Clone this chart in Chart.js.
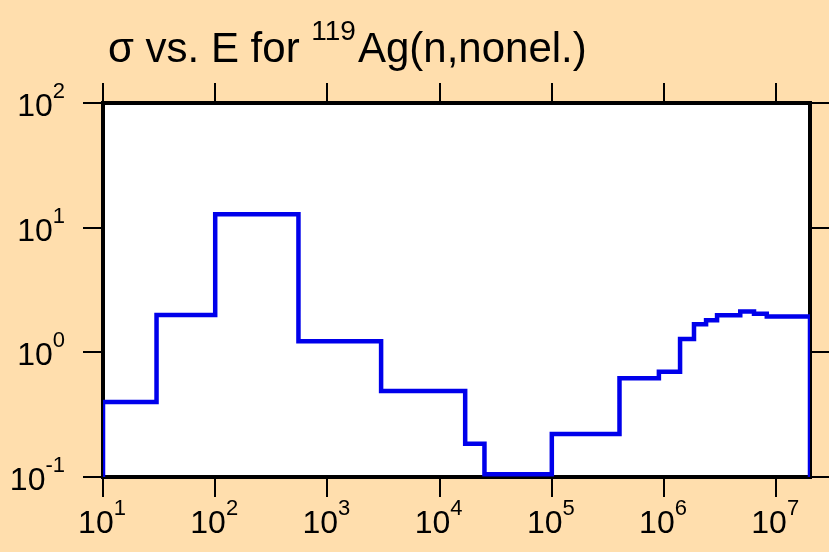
<!DOCTYPE html>
<html>
<head>
<meta charset="utf-8">
<script src="https://cdn.jsdelivr.net/npm/chart.js@4.4.1/dist/chart.umd.min.js"></script>
<style>
    body { margin: 0; background: #ffdead; }
    canvas { display: block; }
</style>
</head>
<body>
<canvas id="myChart" width="829" height="552"></canvas>
<script>
// bin lower edges (eV), last entry is the upper edge of the last bin
const energyEdges = [10, 30, 100, 552, 3010, 16900, 25100, 1.0e5, 4.01e5, 9.0e5, 1.39e6, 1.85e6, 2.37e6, 2.97e6, 4.78e6, 6.34e6, 8.24e6, 2.0e7];
// cross section in each bin (b)
const sigmaValues = [0.40, 1.99, 12.8, 1.23, 0.49, 0.185, 0.105, 0.221, 0.62, 0.70, 1.28, 1.68, 1.81, 1.98, 2.13, 2.04, 1.94];
const xTicks = [1e1, 1e2, 1e3, 1e4, 1e5, 1e6, 1e7];
const yTicks = [1e-1, 1e0, 1e1, 1e2];
const xMin = 10, xMax = 2e7, yMin = 0.1, yMax = 100;

const titleMain = 'σ vs. E for ';
const titleSup = '119';
const titleRest = 'Ag(n,nonel.)';

function expOf(v) {
    return Math.round(Math.log10(v));
}

function buildPoints() {
    const pts = [{x: energyEdges[0], y: yMin}];
    for (let i = 0; i < sigmaValues.length; i++) {
        pts.push({x: energyEdges[i], y: sigmaValues[i]});
    }
    pts.push({x: energyEdges[energyEdges.length - 1], y: yMin});
    return pts;
}

function powLabel(ctx, e, x, y, align) {
    ctx.font = '32px "Liberation Sans", Arial, sans-serif';
    const w1 = ctx.measureText('10').width;
    ctx.font = '22px "Liberation Sans", Arial, sans-serif';
    const w2 = ctx.measureText(String(e)).width;
    let left = align === 'right' ? x - w1 - w2 : x - (w1 + w2) / 2;
    ctx.textAlign = 'left';
    ctx.textBaseline = 'alphabetic';
    ctx.font = '32px "Liberation Sans", Arial, sans-serif';
    ctx.fillText('10', left, y);
    ctx.font = '22px "Liberation Sans", Arial, sans-serif';
    ctx.fillText(String(e), left + w1, y - 18);
}

const decorPlugin = {
    id: 'decor',
    beforeDraw(chart) {
        const {ctx, chartArea: a} = chart;
        ctx.save();
        ctx.fillStyle = '#ffdead';
        ctx.fillRect(0, 0, chart.width, chart.height);
        ctx.fillStyle = '#ffffff';
        ctx.fillRect(a.left, a.top, a.right - a.left, a.bottom - a.top);
        ctx.restore();
    },
    beforeDatasetsDraw(chart) {
        const {ctx, chartArea: a} = chart;
        ctx.save();
        ctx.strokeStyle = '#000';
        ctx.lineWidth = 4;
        ctx.strokeRect(a.left, a.top, a.right - a.left, a.bottom - a.top);
        ctx.restore();
    },
    afterDraw(chart) {
        const ctx = chart.ctx;
        const xs = chart.scales.x, ys = chart.scales.y;
        ctx.save();
        ctx.fillStyle = '#000';
        xTicks.forEach(v => powLabel(ctx, expOf(v), xs.getPixelForValue(v) - 1, 533, 'center'));
        yTicks.forEach(v => powLabel(ctx, expOf(v), 65, ys.getPixelForValue(v) + 13, 'right'));

        // title with superscript mass number
        let tx = 108;
        ctx.textAlign = 'left';
        ctx.font = '42px "Liberation Sans", Arial, sans-serif';
        ctx.fillText(titleMain, tx, 62);
        tx += ctx.measureText(titleMain).width;
        ctx.font = '28px "Liberation Sans", Arial, sans-serif';
        ctx.fillText(titleSup, tx, 40);
        tx += ctx.measureText(titleSup).width + 2;
        ctx.font = '42px "Liberation Sans", Arial, sans-serif';
        ctx.fillText(titleRest, tx, 62);
        ctx.restore();
    }
};

function logAxis(position, min, max, ticks, tickLength) {
    return {
        type: 'logarithmic',
        position: position,
        display: true,
        min: min,
        max: max,
        afterBuildTicks: (scale) => {
            scale.ticks = ticks.map(v => ({value: v}));
        },
        ticks: {display: false},
        border: {display: false},
        grid: {
            drawOnChartArea: false,
            drawTicks: true,
            tickLength: tickLength,
            color: '#000',
            lineWidth: 2
        }
    };
}

const ctx = document.getElementById('myChart').getContext('2d');
const myChart = new Chart(ctx, {
    type: 'line',
    data: {
        datasets: [{
            data: buildPoints(),
            borderColor: 'rgb(0, 0, 235)',
            borderWidth: 4.5,
            pointRadius: 0,
            stepped: true,
            fill: false,
            xAxisID: 'x',
            yAxisID: 'y'
        }]
    },
    options: {
        responsive: false,
        animation: false,
        layout: {
            padding: {left: 83, top: 83, right: 0, bottom: 55}
        },
        plugins: {
            legend: {display: false},
            title: {display: false},
            tooltip: {enabled: false}
        },
        scales: {
            x: logAxis('bottom', xMin, xMax, xTicks, 20),
            x2: logAxis('top', xMin, xMax, xTicks, 20),
            y: logAxis('left', yMin, yMax, yTicks, 20),
            y2: logAxis('right', yMin, yMax, yTicks, 19)
        }
    },
    plugins: [decorPlugin]
});
</script>
</body>
</html>
